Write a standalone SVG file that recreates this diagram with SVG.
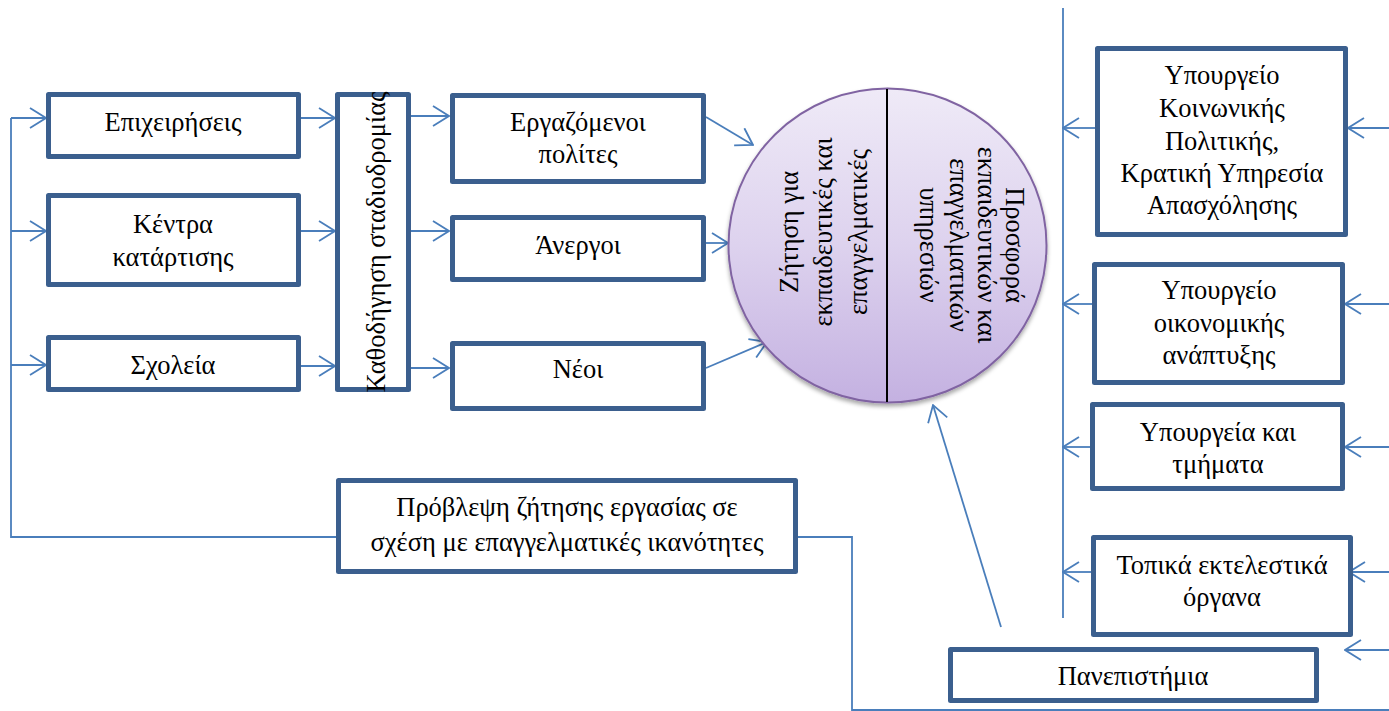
<svg xmlns="http://www.w3.org/2000/svg" width="1389" height="711" viewBox="0 0 1389 711">
<style>
.box{fill:#fff;stroke:#3b5f8e;stroke-width:5;stroke-linejoin:round}
.t{font-family:"Liberation Serif","Times New Roman",serif;font-size:26.5px;fill:#000;text-anchor:middle}
.c{fill:none;stroke:#4a7ebb;stroke-width:1.8}
.a{marker-end:url(#ah)}
</style>
<defs>
<marker id="ah" viewBox="0 0 18 22" refX="17" refY="11" markerWidth="18" markerHeight="22" markerUnits="userSpaceOnUse" orient="auto">
<path d="M1,1 L17,11 L1,21" fill="none" stroke="#4a7ebb" stroke-width="1.8"/>
</marker>
<linearGradient id="cg" x1="0" y1="0" x2="0" y2="1">
<stop offset="0" stop-color="#efeaf7"/>
<stop offset="0.5" stop-color="#ddd2ee"/>
<stop offset="1" stop-color="#c4b1e1"/>
</linearGradient>
<filter id="sh" x="-10%" y="-10%" width="120%" height="125%">
<feDropShadow dx="0" dy="3" stdDeviation="2" flood-color="#000" flood-opacity="0.35"/>
</filter>
</defs>

<g id="connectors">
<path class="c" d="M11,118 V537 H336"/>
<path class="c a" d="M11,118 H46"/>
<path class="c a" d="M11,231 H46"/>
<path class="c a" d="M11,365 H46"/>
<path class="c a" d="M301,118 H335"/>
<path class="c a" d="M301,231 H335"/>
<path class="c a" d="M301,366 H335"/>
<path class="c a" d="M411,116 H449"/>
<path class="c a" d="M411,231 H449"/>
<path class="c a" d="M411,368 H449"/>
<path class="c a" d="M706,117 L753,145"/>
<path class="c a" d="M706,243 L728,243"/>
<path class="c a" d="M706,368 L767,342"/>
<path class="c a" d="M1001,627 L933,405"/>
<path class="c" d="M798,537 H852 V710 H1389"/>
<path class="c" d="M1063,8 V618"/>
<path class="c a" d="M1095,128 H1063"/>
<path class="c a" d="M1092,304 H1063"/>
<path class="c a" d="M1090,447 H1063"/>
<path class="c a" d="M1091,572 H1063"/>
<path class="c a" d="M1389,128 H1348"/>
<path class="c a" d="M1389,304 H1345"/>
<path class="c a" d="M1389,447 H1345"/>
<path class="c a" d="M1389,572 H1349"/>
<path class="c a" d="M1389,650 H1345"/>
</g>

<g id="n-epixeiriseis">
<rect class="box" x="48.5" y="94.5" width="250" height="62"/>
<text class="t" x="173" y="131">Επιχειρήσεις</text>
</g>
<g id="n-kentra">
<rect class="box" x="48.5" y="195.5" width="250" height="89"/>
<text class="t" x="173" y="233">Κέντρα</text>
<text class="t" x="173" y="266">κατάρτισης</text>
</g>
<g id="n-sxoleia">
<rect class="box" x="48.5" y="337.5" width="250" height="52"/>
<text class="t" x="173" y="374">Σχολεία</text>
</g>
<g id="n-kathodigisi">
<rect class="box" x="337.5" y="94.5" width="71" height="295"/>
<text class="t" transform="translate(385,242) rotate(-90)" x="0" y="0">Καθοδήγηση σταδιοδρομίας</text>
</g>
<g id="n-ergazomenoi">
<rect class="box" x="452.5" y="95.5" width="251" height="86"/>
<text class="t" x="578" y="131">Εργαζόμενοι</text>
<text class="t" x="578" y="163">πολίτες</text>
</g>
<g id="n-anergoi">
<rect class="box" x="452.5" y="217.5" width="251" height="62"/>
<text class="t" x="578" y="254">Άνεργοι</text>
</g>
<g id="n-neoi">
<rect class="box" x="452.5" y="343.5" width="251" height="65"/>
<text class="t" x="578" y="378">Νέοι</text>
</g>

<g id="n-circle">
<ellipse cx="887.5" cy="245.5" rx="159" ry="157" fill="url(#cg)" stroke="#8064a2" stroke-width="2" filter="url(#sh)"/>
<line x1="887" y1="89" x2="887" y2="402" stroke="#000" stroke-width="2"/>
<text class="t" transform="translate(798,232) rotate(-90)">Ζήτηση για</text>
<text class="t" transform="translate(832,232) rotate(-90)">εκπαιδευτικές και</text>
<text class="t" transform="translate(867,232) rotate(-90)">επαγγελματικές</text>
<text class="t" transform="translate(1006,245) rotate(90)">Προσφορά</text>
<text class="t" transform="translate(978,245) rotate(90)">εκπαιδευτικών και</text>
<text class="t" transform="translate(950,245) rotate(90)">επαγγελματικών</text>
<text class="t" transform="translate(920,245) rotate(90)">υπηρεσιών</text>
</g>

<g id="n-ypourgeio-koinonikis">
<rect class="box" x="1097.5" y="48.5" width="248" height="186"/>
<text class="t" x="1222" y="84">Υπουργείο</text>
<text class="t" x="1222" y="117">Κοινωνικής</text>
<text class="t" x="1222" y="150">Πολιτικής,</text>
<text class="t" x="1222" y="182">Κρατική Υπηρεσία</text>
<text class="t" x="1222" y="214">Απασχόλησης</text>
</g>
<g id="n-ypourgeio-oikonomikis">
<rect class="box" x="1094.5" y="264.5" width="248" height="118"/>
<text class="t" x="1219" y="299">Υπουργείο</text>
<text class="t" x="1219" y="332">οικονομικής</text>
<text class="t" x="1219" y="364">ανάπτυξης</text>
</g>
<g id="n-ypourgeia">
<rect class="box" x="1092.5" y="404.5" width="250" height="84"/>
<text class="t" x="1218" y="441">Υπουργεία και</text>
<text class="t" x="1218" y="473">τμήματα</text>
</g>
<g id="n-topika">
<rect class="box" x="1093.5" y="537.5" width="257" height="97"/>
<text class="t" x="1222" y="574">Τοπικά εκτελεστικά</text>
<text class="t" x="1222" y="606">όργανα</text>
</g>
<g id="n-panepistimia">
<rect class="box" x="950.5" y="649.5" width="366" height="51"/>
<text class="t" x="1133" y="685">Πανεπιστήμια</text>
</g>
<g id="n-provlepsi">
<rect class="box" x="338.5" y="480.5" width="457" height="91"/>
<text class="t" x="567" y="516">Πρόβλεψη ζήτησης εργασίας σε</text>
<text class="t" x="567" y="551">σχέση με επαγγελματικές ικανότητες</text>
</g>
</svg>
